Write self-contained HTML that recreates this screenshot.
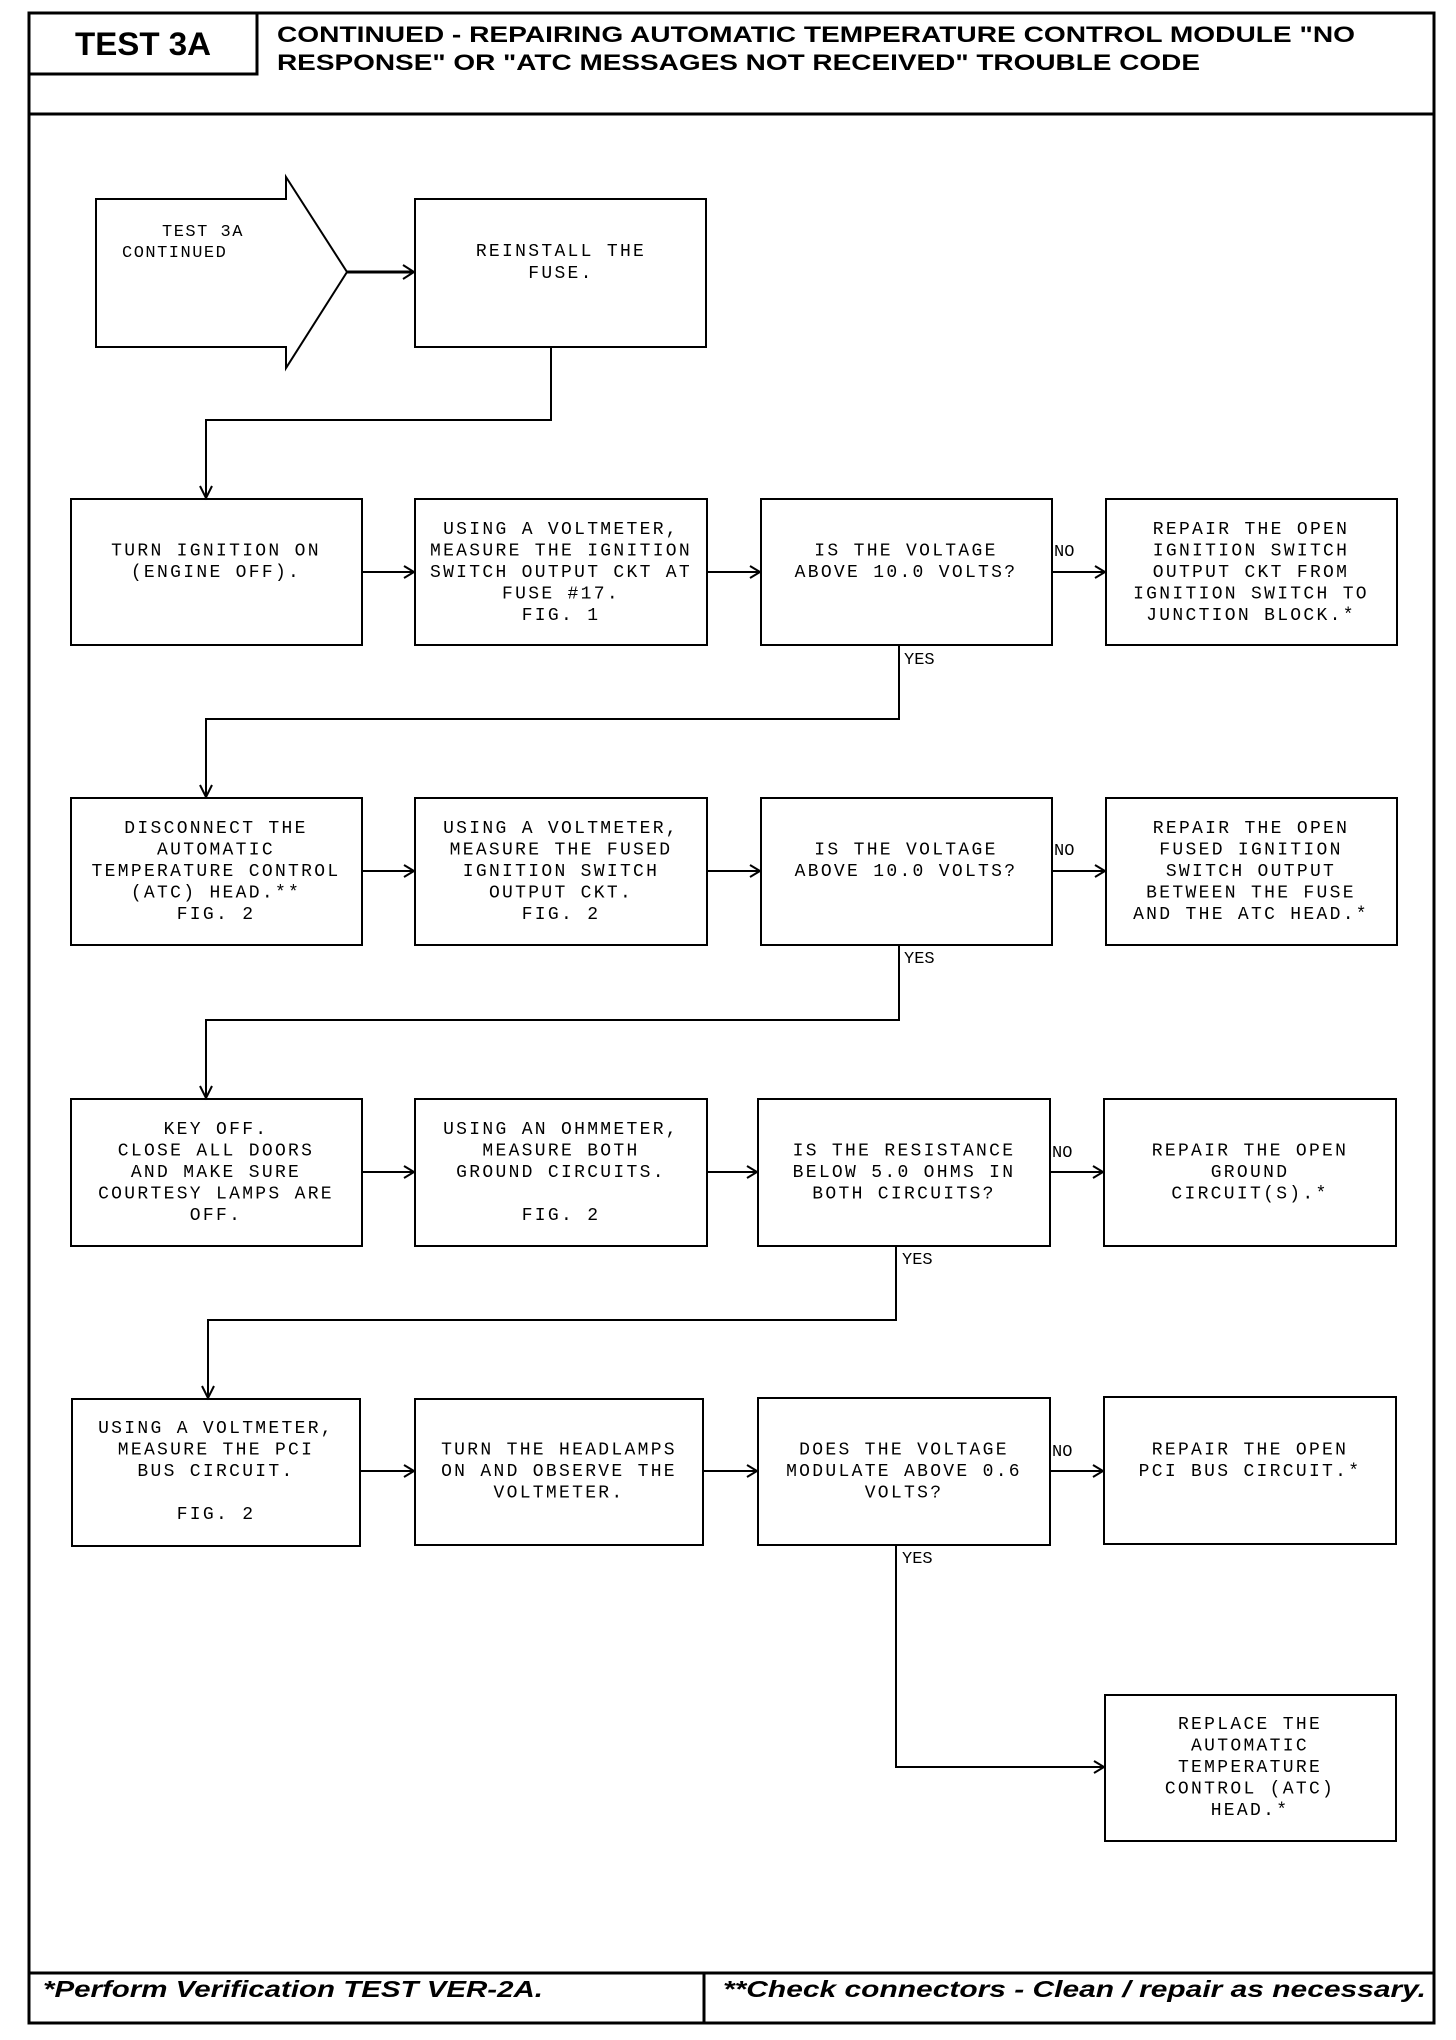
<!DOCTYPE html>
<html><head><meta charset="utf-8"><style>
html,body{margin:0;padding:0;background:#fff;}
svg{display:block;}
.b{fill:none;stroke:#000;stroke-width:2;}
.t{font-family:"Liberation Mono",monospace;font-size:18px;letter-spacing:2.3px;text-anchor:middle;fill:#000;}
.l{font-family:"Liberation Mono",monospace;font-size:17px;fill:#000;}
.ln{stroke:#000;stroke-width:2;fill:none;}
.ah{stroke:#000;stroke-width:2;fill:none;}
</style></head><body>
<svg width="1456" height="2040" viewBox="0 0 1456 2040" xmlns="http://www.w3.org/2000/svg">
<!-- frame -->
<rect x="29" y="13" width="1405" height="2010" fill="none" stroke="#000" stroke-width="3"/>
<line x1="29" y1="114" x2="1434" y2="114" stroke="#000" stroke-width="3"/>
<polyline points="257,13 257,74 29,74" fill="none" stroke="#000" stroke-width="3"/>
<text x="75" y="55" font-family="Liberation Sans,sans-serif" font-weight="bold" font-size="32" textLength="136" lengthAdjust="spacingAndGlyphs">TEST 3A</text>
<text x="277" y="42" font-family="Liberation Sans,sans-serif" font-weight="bold" font-size="22" textLength="1078" lengthAdjust="spacingAndGlyphs">CONTINUED - REPAIRING AUTOMATIC TEMPERATURE CONTROL MODULE "NO</text>
<text x="277" y="70" font-family="Liberation Sans,sans-serif" font-weight="bold" font-size="22" textLength="923" lengthAdjust="spacingAndGlyphs">RESPONSE" OR "ATC MESSAGES NOT RECEIVED" TROUBLE CODE</text>
<!-- footer -->
<line x1="29" y1="1973" x2="1434" y2="1973" stroke="#000" stroke-width="3"/>
<line x1="704" y1="1973" x2="704" y2="2023" stroke="#000" stroke-width="3"/>
<text x="43" y="1997" font-family="Liberation Sans,sans-serif" font-weight="bold" font-style="italic" font-size="23" textLength="500" lengthAdjust="spacingAndGlyphs">*Perform Verification TEST VER-2A.</text>
<text x="723" y="1997" font-family="Liberation Sans,sans-serif" font-weight="bold" font-style="italic" font-size="23" textLength="703" lengthAdjust="spacingAndGlyphs">**Check connectors - Clean / repair as necessary.</text>

<!-- start arrow -->
<polygon points="96,199 286,199 286,177 347,272 286,368 286,347 96,347" class="b"/>
<text class="l" x="162" y="236" style="letter-spacing:1.5px">TEST 3A</text>
<text class="l" x="122" y="257" style="letter-spacing:1.5px">CONTINUED</text>
<line x1="347" y1="272" x2="413" y2="272" stroke="#000" stroke-width="3"/>
<polyline class="ah" points="403,265 414,272 403,279"/>
<rect class="b" x="415" y="199" width="291" height="148"/>
<text class="t" x="561" y="256">REINSTALL THE</text>
<text class="t" x="561" y="278">FUSE.</text>
<polyline class="ln" points="551,347 551,420 206,420 206,497"/>
<polyline class="ah" points="200,486 206,498 212,486"/>

<!-- ROW 2 T=499 -->
<rect class="b" x="71" y="499" width="291" height="146"/>
<rect class="b" x="415" y="499" width="292" height="146"/>
<rect class="b" x="761" y="499" width="291" height="146"/>
<rect class="b" x="1106" y="499" width="291" height="146"/>
<text class="t" x="216" y="555.5">TURN IGNITION ON</text>
<text class="t" x="216" y="577">(ENGINE OFF).</text>
<text class="t" x="561" y="534">USING A VOLTMETER,</text>
<text class="t" x="561" y="555.5">MEASURE THE IGNITION</text>
<text class="t" x="561" y="577">SWITCH OUTPUT CKT AT</text>
<text class="t" x="561" y="598.5">FUSE #17.</text>
<text class="t" x="561" y="620">FIG. 1</text>
<text class="t" x="906" y="555.5">IS THE VOLTAGE</text>
<text class="t" x="906" y="577">ABOVE 10.0 VOLTS?</text>
<text class="t" x="1251" y="534">REPAIR THE OPEN</text>
<text class="t" x="1251" y="555.5">IGNITION SWITCH</text>
<text class="t" x="1251" y="577">OUTPUT CKT FROM</text>
<text class="t" x="1251" y="598.5">IGNITION SWITCH TO</text>
<text class="t" x="1251" y="620">JUNCTION BLOCK.*</text>
<line class="ln" x1="362" y1="572" x2="414" y2="572"/><polyline class="ah" points="404,566 414,572 404,578"/>
<line class="ln" x1="707" y1="572" x2="760" y2="572"/><polyline class="ah" points="750,566 760,572 750,578"/>
<line class="ln" x1="1052" y1="572" x2="1105" y2="572"/><polyline class="ah" points="1095,566 1105,572 1095,578"/>
<text class="l" x="1054" y="556">NO</text>
<text class="l" x="904" y="664">YES</text>
<polyline class="ln" points="899,645 899,719 206,719 206,796"/>
<polyline class="ah" points="200,785 206,797 212,785"/>

<!-- ROW 3 T=798 -->
<rect class="b" x="71" y="798" width="291" height="147"/>
<rect class="b" x="415" y="798" width="292" height="147"/>
<rect class="b" x="761" y="798" width="291" height="147"/>
<rect class="b" x="1106" y="798" width="291" height="147"/>
<text class="t" x="216" y="833">DISCONNECT THE</text>
<text class="t" x="216" y="854.5">AUTOMATIC</text>
<text class="t" x="216" y="876">TEMPERATURE CONTROL</text>
<text class="t" x="216" y="897.5">(ATC) HEAD.**</text>
<text class="t" x="216" y="919">FIG. 2</text>
<text class="t" x="561" y="833">USING A VOLTMETER,</text>
<text class="t" x="561" y="854.5">MEASURE THE FUSED</text>
<text class="t" x="561" y="876">IGNITION SWITCH</text>
<text class="t" x="561" y="897.5">OUTPUT CKT.</text>
<text class="t" x="561" y="919">FIG. 2</text>
<text class="t" x="906" y="854.5">IS THE VOLTAGE</text>
<text class="t" x="906" y="876">ABOVE 10.0 VOLTS?</text>
<text class="t" x="1251" y="833">REPAIR THE OPEN</text>
<text class="t" x="1251" y="854.5">FUSED IGNITION</text>
<text class="t" x="1251" y="876">SWITCH OUTPUT</text>
<text class="t" x="1251" y="897.5">BETWEEN THE FUSE</text>
<text class="t" x="1251" y="919">AND THE ATC HEAD.*</text>
<line class="ln" x1="362" y1="871" x2="414" y2="871"/><polyline class="ah" points="404,865 414,871 404,877"/>
<line class="ln" x1="707" y1="871" x2="760" y2="871"/><polyline class="ah" points="750,865 760,871 750,877"/>
<line class="ln" x1="1052" y1="871" x2="1105" y2="871"/><polyline class="ah" points="1095,865 1105,871 1095,877"/>
<text class="l" x="1054" y="855">NO</text>
<text class="l" x="904" y="963">YES</text>
<polyline class="ln" points="899,945 899,1020 206,1020 206,1097"/>
<polyline class="ah" points="200,1086 206,1098 212,1086"/>

<!-- ROW 4 T=1099 -->
<rect class="b" x="71" y="1099" width="291" height="147"/>
<rect class="b" x="415" y="1099" width="292" height="147"/>
<rect class="b" x="758" y="1099" width="292" height="147"/>
<rect class="b" x="1104" y="1099" width="292" height="147"/>
<text class="t" x="216" y="1134">KEY OFF.</text>
<text class="t" x="216" y="1155.5">CLOSE ALL DOORS</text>
<text class="t" x="216" y="1177">AND MAKE SURE</text>
<text class="t" x="216" y="1198.5">COURTESY LAMPS ARE</text>
<text class="t" x="216" y="1220">OFF.</text>
<text class="t" x="561" y="1134">USING AN OHMMETER,</text>
<text class="t" x="561" y="1155.5">MEASURE BOTH</text>
<text class="t" x="561" y="1177">GROUND CIRCUITS.</text>
<text class="t" x="561" y="1220">FIG. 2</text>
<text class="t" x="904" y="1155.5">IS THE RESISTANCE</text>
<text class="t" x="904" y="1177">BELOW 5.0 OHMS IN</text>
<text class="t" x="904" y="1198.5">BOTH CIRCUITS?</text>
<text class="t" x="1250" y="1155.5">REPAIR THE OPEN</text>
<text class="t" x="1250" y="1177">GROUND</text>
<text class="t" x="1250" y="1198.5">CIRCUIT(S).*</text>
<line class="ln" x1="362" y1="1172" x2="414" y2="1172"/><polyline class="ah" points="404,1166 414,1172 404,1178"/>
<line class="ln" x1="707" y1="1172" x2="757" y2="1172"/><polyline class="ah" points="747,1166 757,1172 747,1178"/>
<line class="ln" x1="1050" y1="1172" x2="1103" y2="1172"/><polyline class="ah" points="1093,1166 1103,1172 1093,1178"/>
<text class="l" x="1052" y="1157">NO</text>
<text class="l" x="902" y="1264">YES</text>
<polyline class="ln" points="896,1246 896,1320 208,1320 208,1397"/>
<polyline class="ah" points="202,1386 208,1398 214,1386"/>

<!-- ROW 5 T=1398 -->
<rect class="b" x="72" y="1399" width="288" height="147"/>
<rect class="b" x="415" y="1399" width="288" height="146"/>
<rect class="b" x="758" y="1398" width="292" height="147"/>
<rect class="b" x="1104" y="1397" width="292" height="147"/>
<text class="t" x="216" y="1433">USING A VOLTMETER,</text>
<text class="t" x="216" y="1454.5">MEASURE THE PCI</text>
<text class="t" x="216" y="1476">BUS CIRCUIT.</text>
<text class="t" x="216" y="1519">FIG. 2</text>
<text class="t" x="559" y="1454.5">TURN THE HEADLAMPS</text>
<text class="t" x="559" y="1476">ON AND OBSERVE THE</text>
<text class="t" x="559" y="1497.5">VOLTMETER.</text>
<text class="t" x="904" y="1454.5">DOES THE VOLTAGE</text>
<text class="t" x="904" y="1476">MODULATE ABOVE 0.6</text>
<text class="t" x="904" y="1497.5">VOLTS?</text>
<text class="t" x="1250" y="1454.5">REPAIR THE OPEN</text>
<text class="t" x="1250" y="1476">PCI BUS CIRCUIT.*</text>
<line class="ln" x1="360" y1="1471" x2="414" y2="1471"/><polyline class="ah" points="404,1465 414,1471 404,1477"/>
<line class="ln" x1="703" y1="1471" x2="757" y2="1471"/><polyline class="ah" points="747,1465 757,1471 747,1477"/>
<line class="ln" x1="1050" y1="1471" x2="1103" y2="1471"/><polyline class="ah" points="1093,1465 1103,1471 1093,1477"/>
<text class="l" x="1052" y="1456">NO</text>
<text class="l" x="902" y="1563">YES</text>
<polyline class="ln" points="896,1545 896,1767 1104,1767"/>
<polyline class="ah" points="1094,1761 1104,1767 1094,1773"/>

<!-- final -->
<rect class="b" x="1105" y="1695" width="291" height="146"/>
<text class="t" x="1250" y="1729">REPLACE THE</text>
<text class="t" x="1250" y="1750.5">AUTOMATIC</text>
<text class="t" x="1250" y="1772">TEMPERATURE</text>
<text class="t" x="1250" y="1793.5">CONTROL (ATC)</text>
<text class="t" x="1250" y="1815">HEAD.*</text>
</svg>
</body></html>
